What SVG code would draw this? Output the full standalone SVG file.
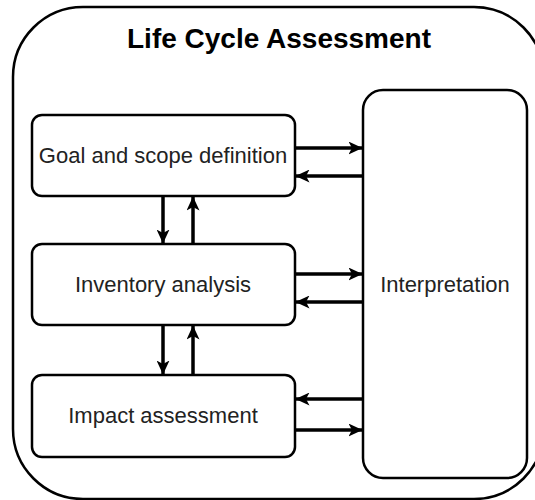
<svg xmlns="http://www.w3.org/2000/svg" width="535" height="500" viewBox="0 0 535 500">
<style>
.box{fill:#fff;stroke:#000;stroke-width:2.5}
.lbl{font-family:"Liberation Sans",Arial,sans-serif;font-size:22px;fill:#222;text-anchor:middle}
.title{font-family:"Liberation Sans",Arial,sans-serif;font-size:28px;font-weight:bold;fill:#000;text-anchor:middle}
.conn{stroke:#000;stroke-width:3.5;fill:none;marker-end:url(#ah)}
</style>
<defs>
<marker id="ah" viewBox="0 0 14 13" refX="13.5" refY="6.5" markerWidth="14" markerHeight="13" markerUnits="userSpaceOnUse" orient="auto">
<path d="M0,0 L14,6.5 L0,13 L3.5,6.5 Z" fill="#000"/>
</marker>
</defs>
<g id="lca">
<rect class="box" x="13" y="7" width="531" height="492" rx="70" ry="70" stroke-width="3"/>
<text class="title" x="279" y="48">Life Cycle Assessment</text>
</g>
<g id="goal">
<rect class="box" x="32" y="115" width="263" height="81" rx="10"/>
<text class="lbl" x="163" y="163">Goal and scope definition</text>
</g>
<g id="inventory">
<rect class="box" x="32" y="244" width="263" height="81" rx="10"/>
<text class="lbl" x="163" y="292">Inventory analysis</text>
</g>
<g id="impact">
<rect class="box" x="32" y="375" width="263" height="82" rx="10"/>
<text class="lbl" x="163" y="423">Impact assessment</text>
</g>
<g id="interpretation">
<rect class="box" x="363" y="90" width="164" height="388" rx="20"/>
<text class="lbl" x="445" y="292">Interpretation</text>
</g>
<g id="connectors">
<path class="conn" d="M295,148 H362"/>
<path class="conn" d="M363,176 H296"/>
<path class="conn" d="M295,274 H362"/>
<path class="conn" d="M363,302 H296"/>
<path class="conn" d="M363,399 H296"/>
<path class="conn" d="M295,430 H362"/>
<path class="conn" d="M163,196 V243"/>
<path class="conn" d="M193,244 V197"/>
<path class="conn" d="M163,325 V374"/>
<path class="conn" d="M193,375 V326"/>
</g>
</svg>
